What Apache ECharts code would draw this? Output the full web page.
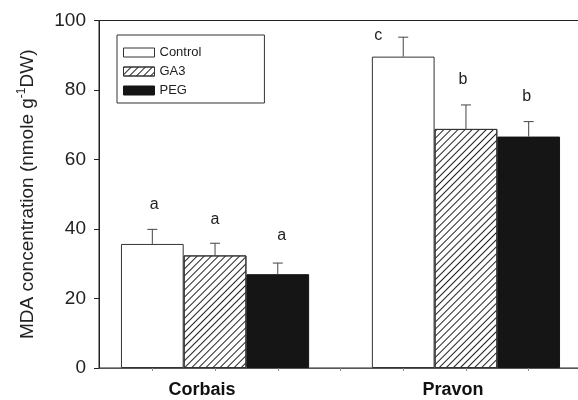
<!DOCTYPE html>
<html>
<head>
<meta charset="utf-8">
<script src="https://cdn.jsdelivr.net/npm/echarts@6/dist/echarts.min.js"></script>
<style>
html,body{margin:0;padding:0;background:#fff;}
#chart{width:578px;height:400px;}
</style>
</head>
<body>
<div id="chart"></div>
<script>
// ---- data ----
const categories = ['Corbais', 'Pravon'];
const treatments = ['Control', 'GA3', 'PEG'];
const meanControl = [35.7, 89.6];
const meanGA3 = [32.4, 68.8];
const meanPEG = [27.0, 66.6];
const errControl = [4.2, 5.6];
const errGA3 = [3.5, 6.9];
const errPEG = [3.2, 4.3];
const lettersControl = ['a', 'c'];
const lettersGA3 = ['a', 'b'];
const lettersPEG = ['a', 'b'];
const yTickMax = 100;
const yTickStep = 20;

// ---- layout / style ----
const FONT = "'Liberation Sans', Arial, Helvetica, sans-serif";
const gridLeft = 99, gridTop = 20.5, gridWidth = 483, gridBottom = 32;
const xMin = -0.85, xMax = 6.85;
const groupCenters = [1, 5];      // axis position of each group's centre slot
const slotPx = gridWidth / (xMax - xMin);
const letterStyle = {
  Control: [{dx: 2, dy: -25}, {dx: -25, dy: -2}],
  GA3: [{dx: 0, dy: -24}, {dx: -3, dy: -25}],
  PEG: [{dx: 4, dy: -27}, {dx: -2, dy: -25}]
};
const means = [meanControl, meanGA3, meanPEG];
const errs = [errControl, errGA3, errPEG];
const letters = [lettersControl, lettersGA3, lettersPEG];

const styles = [
  {color: '#ffffff', borderColor: '#333', borderWidth: 1},
  {color: '#ffffff', borderColor: '#333', borderWidth: 1,
   decal: {symbol: 'rect', symbolSize: 1, color: '#222', dashArrayX: [1, 0], dashArrayY: [1, 4], rotation: -Math.PI / 4}},
  {color: '#151515', borderColor: '#151515', borderWidth: 1}
];

const series = [];
treatments.forEach((t, s) => {
  series.push({
    name: t,
    type: 'bar',
    barWidth: slotPx,
    barGap: '0%',
    itemStyle: styles[s],
    data: categories.map((c, g) => [groupCenters[g], means[s][g]]),
    z: 2
  });
});
treatments.forEach((t, s) => {
  series.push({
    name: t + '-err',
    type: 'custom',
    z: 3,
    data: categories.map((c, g) => [groupCenters[g] + (s - 1), means[s][g], errs[s][g]]),
    renderItem: function (params, api) {
      const x = api.value(0), m = api.value(1), e = api.value(2);
      const base = api.coord([x, m]);
      const top = api.coord([x, m + e]);
      const lo = letterStyle[t][params.dataIndex];
      return {
        type: 'group',
        children: [
          {type: 'line', shape: {x1: base[0], y1: base[1], x2: top[0], y2: top[1]}, style: {stroke: '#444', lineWidth: 1}},
          {type: 'line', shape: {x1: top[0] - 5, y1: top[1], x2: top[0] + 5, y2: top[1]}, style: {stroke: '#444', lineWidth: 1}},
          {type: 'text', style: {text: letters[s][params.dataIndex], x: top[0] + lo.dx, y: top[1] + lo.dy,
            fill: '#222', font: '16px ' + FONT, align: 'center', verticalAlign: 'middle'}}
        ]
      };
    }
  });
});

const chart = echarts.init(document.getElementById('chart'), null, {renderer: 'canvas'});
chart.setOption({
  animation: false,
  backgroundColor: '#ffffff',
  textStyle: {fontFamily: FONT},
  grid: {left: gridLeft, top: gridTop, width: gridWidth, bottom: gridBottom,
    show: true, borderColor: '#222', borderWidth: 1, containLabel: false, outerBoundsMode: 'none'},
  legend: {
    data: treatments,
    icon: 'rect',
    orient: 'vertical',
    left: 117, top: 35,
    itemWidth: 31, itemHeight: 9, itemGap: 6,
    padding: [11, 63, 6, 6],
    borderColor: '#333', borderWidth: 1,
    itemStyle: {borderWidth: 1},
    textStyle: {fontSize: 13, color: '#222', fontFamily: FONT},
    selectedMode: false
  },
  xAxis: {
    type: 'value',
    min: xMin, max: xMax,
    axisLine: {show: true, onZero: false, lineStyle: {color: '#555', width: 1}},
    axisTick: {show: true, length: 3, lineStyle: {color: '#888'}, customValues: [0, 1, 2, 3, 4, 5, 6]},
    axisLabel: {
      show: true, customValues: groupCenters, margin: 13,
      formatter: v => categories[groupCenters.indexOf(v)] || '',
      fontSize: 18, fontWeight: 'bold', color: '#111', fontFamily: FONT,
      padding: [0, 26, 0, 0]
    },
    splitLine: {show: false}
  },
  yAxis: {
    type: 'value',
    min: 0, max: yTickMax, interval: yTickStep,
    name: '{m|MDA concentration (nmole g}{s|-1}{m|DW)}',
    nameLocation: 'middle',
    nameGap: 60,
    nameRotate: 90,
    nameTextStyle: {
      fontFamily: FONT,
      rich: {
        m: {fontSize: 19, color: '#222', fontFamily: FONT, lineHeight: 23},
        s: {fontSize: 12, color: '#222', fontFamily: FONT, verticalAlign: 'top', lineHeight: 23, padding: [0, 0, 8, 0]}
      }
    },
    axisLine: {show: true, onZero: false, lineStyle: {color: '#222', width: 1}},
    axisTick: {show: true, length: 5, lineStyle: {color: '#222'}},
    axisLabel: {fontSize: 19, color: '#222', margin: 13, fontFamily: FONT},
    splitLine: {show: false}
  },
  series: series
});
</script>
</body>
</html>
